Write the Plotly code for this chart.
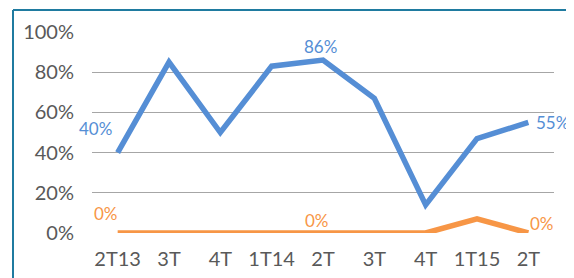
import plotly.graph_objects as go

categories = ["2T13", "3T", "4T", "1T14", "2T", "3T ", "4T ", "1T15", "2T "]
tick_labels = ["2T13", "3T", "4T", "1T14", "2T", "3T", "4T", "1T15", "2T"]
blue_values = [0.40, 0.85, 0.50, 0.83, 0.86, 0.67, 0.14, 0.47, 0.55]
orange_values = [0.0, 0.0, 0.0, 0.0, 0.0, 0.0, 0.0, 0.07, 0.0]
blue_labels = ["40%", "", "", "", "86%", "", "", "", "55%"]
orange_labels = ["0%", "", "", "", "0%", "", "", "", "0%"]
y_ticks = [0, 0.2, 0.4, 0.6, 0.8, 1.0]
y_tick_text = ["0%", "20%", "40%", "60%", "80%", "100%"]

BLUE = "#558ED5"
ORANGE = "#F79646"
FONT = "Lato"

# page body has an 8px margin; compensate
OFF = 8
W, H = 574, 278
pw, ph = 462, 201
L, T = 92 - OFF, 32 - OFF
R, B = W - L - pw, H - T - ph

# label offsets (pixels) per point
blue_shift = {0: (-22, 24), 4: (-3, 14), 8: (24, 0)}
orange_shift = {0: (-12, 20), 4: (-6, 13), 8: (14, 10)}

fig = go.Figure()
fig.add_trace(go.Scatter(
    x=categories, y=blue_values, mode="lines",
    line=dict(color=BLUE, width=5.5), showlegend=False, hoverinfo="skip"))
fig.add_trace(go.Scatter(
    x=categories, y=orange_values, mode="lines",
    line=dict(color=ORANGE, width=5.5), showlegend=False, hoverinfo="skip"))

for vals, labels, shifts, col in [(blue_values, blue_labels, blue_shift, BLUE),
                                   (orange_values, orange_labels, orange_shift, ORANGE)]:
    for i, lab in enumerate(labels):
        if lab:
            dx, dy = shifts[i]
            fig.add_annotation(x=categories[i], y=vals[i], text=lab, showarrow=False,
                               xshift=dx, yshift=dy, xanchor="center", yanchor="middle",
                               font=dict(color=col, size=17, family=FONT))

# chart frame (partially visible, teal)
fx0 = (13 - OFF - L) / pw
fy0 = (T + ph - (10 - OFF)) / ph
fig.add_shape(type="line", xref="paper", yref="paper", x0=fx0, x1=1.3, y0=fy0, y1=fy0,
              line=dict(color="#1F7BA0", width=2), layer="above")
fig.add_shape(type="line", xref="paper", yref="paper", x0=fx0, x1=fx0, y0=fy0, y1=-0.5,
              line=dict(color="#1F7BA0", width=2), layer="above")

fig.update_layout(
    width=W, height=H,
    margin=dict(l=L, r=R, t=T, b=B, autoexpand=False),
    paper_bgcolor="white", plot_bgcolor="white",
    font=dict(family=FONT, color="#595959", size=20),
    xaxis=dict(type="category", range=[-0.5, 8.5], tickmode="array",
               tickvals=categories, ticktext=tick_labels, showgrid=False,
               zeroline=False, showline=False, ticks="", ticklabelstandoff=12,
               automargin=False,
               tickfont=dict(size=20, color="#595959", family=FONT)),
    yaxis=dict(range=[0, 1.0], tickmode="array", tickvals=y_ticks, ticktext=y_tick_text,
               showgrid=True, gridcolor="#A6A6A6", gridwidth=1, zeroline=False,
               showline=False, ticks="", ticklabelstandoff=17, automargin=False,
               tickfont=dict(size=20, color="#595959", family=FONT)),
)

fig.write_html("out.html")
